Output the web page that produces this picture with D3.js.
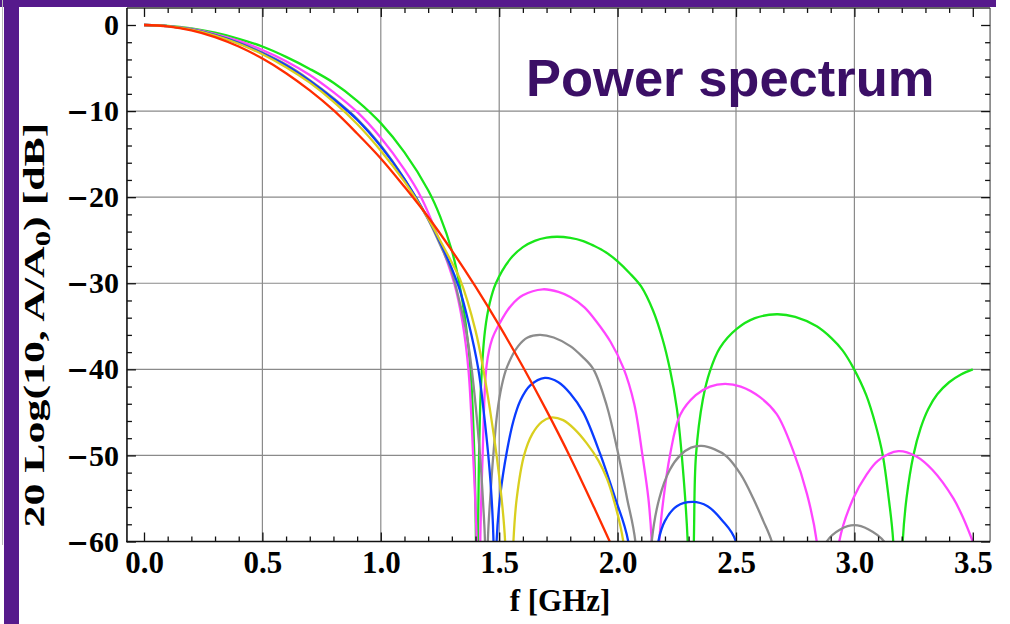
<!DOCTYPE html>
<html>
<head>
<meta charset="utf-8">
<script src="https://cdn.jsdelivr.net/npm/d3@7"></script>
<style>
  body { margin: 0; background: #fff; }
  svg { display: block; }
</style>
</head>
<body>
<script>
var w = 1010;
var h = 624;

// curves, [f in GHz, level in dB]
// (points below -60 only steer the line into the nulls, they are clipped away)
var green = [[0,0],[0.1,-0.1],[0.2,-0.4],[0.3,-0.9],[0.4,-1.6],[0.5,-2.5],[0.6,-3.7],[0.7,-5.1],[0.8,-6.7],[0.9,-8.8],
  [1.0,-11.4],[1.1,-14.8],[1.2,-19.2],[1.25,-22.2],[1.3,-26.2],[1.33,-29.8],[1.36,-35],[1.38,-40.5],[1.395,-50],[1.402,-60],
  [1.406,-80],[1.41,-60],[1.415,-50],[1.423,-42],[1.44,-35.5],[1.46,-32.3],[1.486,-30],[1.546,-27.2],[1.6,-25.8],[1.65,-25.07],
  [1.7,-24.7],[1.745,-24.6],[1.8,-24.73],[1.855,-25.1],[1.9,-25.65],[1.95,-26.4],[2.0,-27.45],[2.05,-28.8],[2.1,-30.4],[2.15,-33.2],
  [2.19,-36.5],[2.221,-40],[2.25,-44.5],[2.271,-50],[2.296,-60],[2.309,-80],[2.322,-60],[2.331,-50],[2.36,-43.5],[2.39,-40.2],
  [2.432,-37.5],[2.503,-35.3],[2.58,-34.05],[2.672,-33.6],[2.75,-33.9],[2.841,-35.0],[2.904,-36.4],[2.95,-37.8],[2.995,-39.8],[3.05,-43],
  [3.09,-46.5],[3.12,-50],[3.145,-55],[3.164,-60],[3.185,-80],[3.204,-60],[3.22,-55],[3.249,-50],[3.28,-46.8],[3.312,-44.6],
  [3.35,-42.9],[3.4,-41.5],[3.45,-40.6],[3.5,-40]];

var magenta = [[0,0],[0.1,-0.12],[0.2,-0.46],[0.3,-1.05],[0.4,-1.85],[0.5,-2.9],[0.6,-4.2],[0.7,-5.8],[0.8,-7.8],[0.9,-10.1],
  [1.0,-13.1],[1.1,-16.8],[1.17,-20],[1.24,-24.5],[1.31,-30],[1.345,-34.5],[1.37,-40],[1.39,-50],[1.405,-60],[1.412,-80],
  [1.42,-60],[1.43,-50],[1.447,-39.5],[1.47,-36.5],[1.503,-34.6],[1.55,-32.6],[1.6,-31.4],[1.684,-30.7],[1.75,-31.0],[1.8,-31.6],
  [1.86,-32.8],[1.912,-34.5],[1.97,-36.8],[2.024,-39.8],[2.07,-44],[2.105,-50],[2.13,-55],[2.144,-60],[2.16,-80],[2.176,-60],
  [2.194,-55],[2.221,-50],[2.264,-45.3],[2.33,-43],[2.39,-42],[2.454,-41.7],[2.52,-42],[2.6,-43.2],[2.672,-45.2],[2.742,-49.5],
  [2.8,-54.5],[2.841,-60],[2.89,-80],[2.936,-60],[2.995,-55],[3.05,-52.3],[3.1,-50.6],[3.186,-49.5],[3.26,-50.1],[3.33,-51.7],
  [3.418,-55],[3.46,-57.3],[3.5,-60]];

var gray = [[0,0],[0.1,-0.13],[0.2,-0.5],[0.3,-1.15],[0.4,-2.05],[0.5,-3.2],[0.6,-4.6],[0.7,-6.4],[0.8,-8.5],[0.9,-10.9],
  [1.0,-14.0],[1.1,-17.9],[1.2,-22.6],[1.25,-25.5],[1.3,-28.7],[1.334,-32.3],[1.36,-35.5],[1.384,-40],[1.419,-50],[1.433,-56],
  [1.44,-60],[1.445,-80],[1.452,-60],[1.462,-55],[1.475,-50],[1.492,-45],[1.51,-42],[1.532,-39.8],[1.58,-37.3],[1.62,-36.3],
  [1.672,-36],[1.73,-36.3],[1.8,-37.3],[1.85,-38.5],[1.898,-40],[1.954,-44.2],[2.0,-49.5],[2.04,-55],[2.075,-60],[2.112,-80],
  [2.144,-60],[2.176,-55],[2.22,-51.7],[2.264,-50],[2.31,-49.1],[2.355,-48.9],[2.41,-49.3],[2.46,-50.1],[2.52,-52.2],[2.573,-55],
  [2.615,-57.6],[2.651,-60],[2.7,-66],[2.77,-80],[2.86,-62],[2.883,-60],[2.94,-58.6],[3.0,-58.1],[3.06,-58.6],[3.125,-60],
  [3.15,-62],[3.2,-80]];

var blue = [[0,0],[0.1,-0.13],[0.2,-0.52],[0.3,-1.18],[0.4,-2.1],[0.5,-3.3],[0.6,-4.7],[0.7,-6.5],[0.8,-8.6],[0.9,-11.0],
  [1.0,-14.1],[1.1,-17.9],[1.2,-22.5],[1.25,-25.2],[1.3,-28.3],[1.334,-30.8],[1.37,-34.5],[1.412,-40],[1.435,-45],[1.454,-50],
  [1.468,-55],[1.476,-60],[1.482,-80],[1.489,-60],[1.505,-54.5],[1.532,-49.6],[1.56,-46],[1.59,-43.6],[1.63,-41.9],[1.693,-41],
  [1.75,-41.5],[1.8,-42.8],[1.855,-45],[1.926,-49.8],[1.99,-55],[2.045,-60],[2.11,-80],[2.172,-60],[2.2,-57.6],[2.25,-55.9],
  [2.317,-55.4],[2.38,-55.9],[2.44,-57.5],[2.5,-60],[2.56,-80]];

var yellow = [[0,0],[0.1,-0.14],[0.2,-0.54],[0.3,-1.22],[0.4,-2.18],[0.5,-3.4],[0.6,-4.9],[0.7,-6.7],[0.8,-8.9],[0.9,-11.5],
  [1.0,-14.6],[1.1,-18.2],[1.2,-22.5],[1.25,-25],[1.3,-27.6],[1.334,-29.5],[1.4,-35.5],[1.433,-40],[1.46,-44.5],[1.489,-50],
  [1.51,-55],[1.525,-60],[1.54,-80],[1.56,-60],[1.574,-55],[1.605,-50],[1.64,-47.5],[1.68,-46.1],[1.717,-45.6],[1.77,-45.9],
  [1.82,-47.0],[1.87,-48.6],[1.919,-50.6],[1.955,-52.7],[1.982,-55],[2.024,-60],[2.08,-80]];

var red = [[0,0],[0.1,-0.16],[0.2,-0.62],[0.3,-1.4],[0.4,-2.5],[0.5,-3.9],[0.6,-5.6],[0.7,-7.6],[0.8,-9.9],[0.9,-12.6],
  [1.0,-15.5],[1.1,-18.8],[1.2,-22.3],[1.3,-26.2],[1.4,-30.4],[1.5,-34.9],[1.6,-39.7],[1.7,-44.8],[1.8,-50.2],[1.9,-56.0],[2.0,-62.0]];

var curveNames = ["green", "magenta", "gray", "blue", "yellow", "red"];
var curveColors = ["#19e619", "#ff45ff", "#8c8c8c", "#0a3cff", "#d9cf1f", "#ff2d00"];

var xMajor = [0, 0.5, 1.0, 1.5, 2.0, 2.5, 3.0, 3.5];
var yMajor = [0, -10, -20, -30, -40, -50, -60];

var titleText = "Power spectrum";
var xLabel = "f [GHz]";

var purple = "#561a8c";

window.onload = function() {

  var svg = d3.select("body")
              .append("svg")
              .attr("width", w)
              .attr("height", h);

  // slide decoration: purple bars top and left
  svg.append("rect").attr("x", 0).attr("y", 0).attr("width", 996).attr("height", 7).attr("fill", purple);
  svg.append("line").attr("x1", 2.5).attr("x2", 2.5).attr("y1", 0).attr("y2", 545)
     .attr("stroke", "#bbb").attr("stroke-width", 1);
  svg.append("rect").attr("x", 4).attr("y", 0).attr("width", 15).attr("height", h).attr("fill", purple);

  var xScale = d3.scaleLinear().domain([0, 3.5]).range([144, 972.8]);
  var yScale = d3.scaleLinear().domain([-60, 0]).range([541.5, 25]);

  var left = xScale(-0.072), right = xScale(3.573);
  var top = yScale(1.98), bottom = yScale(-60);

  // grid (only on the inner major ticks)
  svg.append("g").selectAll("line")
     .data(xMajor.filter(function(d) { return d > 0 && d < 3.5; }))
     .enter().append("line")
     .attr("x1", function(d) { return xScale(d); })
     .attr("x2", function(d) { return xScale(d); })
     .attr("y1", top).attr("y2", bottom)
     .attr("stroke", "#8a8a8a").attr("stroke-width", 1.2);

  svg.append("g").selectAll("line")
     .data(yMajor.filter(function(d) { return d < 0 && d > -60; }))
     .enter().append("line")
     .attr("y1", function(d) { return yScale(d); })
     .attr("y2", function(d) { return yScale(d); })
     .attr("x1", left).attr("x2", right)
     .attr("stroke", "#8a8a8a").attr("stroke-width", 1.2);

  // curves, clipped to the frame
  svg.append("clipPath").attr("id", "clip")
     .append("rect").attr("x", left).attr("y", top)
     .attr("width", right - left).attr("height", bottom - top);

  var line = d3.line()
               .x(function(d) { return xScale(d[0]); })
               .y(function(d) { return yScale(d[1]); })
               .curve(d3.curveCatmullRom.alpha(0.5));

  var curves = [green, magenta, gray, blue, yellow, red];

  svg.append("g").attr("clip-path", "url(#clip)")
     .selectAll("path")
     .data(curves)
     .enter().append("path")
     .attr("class", function(d, i) { return curveNames[i]; })
     .attr("d", line)
     .attr("fill", "none")
     .attr("stroke", function(d, i) { return curveColors[i]; })
     .attr("stroke-width", 2.3)
     .attr("stroke-linejoin", "round");

  // frame
  svg.append("line").attr("x1", right).attr("x2", right).attr("y1", top).attr("y2", bottom)
     .attr("stroke", "#777").attr("stroke-width", 1.5);
  svg.append("line").attr("x1", left).attr("x2", right).attr("y1", top).attr("y2", top)
     .attr("stroke", "#333").attr("stroke-width", 1.5);
  svg.append("line").attr("x1", left).attr("x2", left).attr("y1", top).attr("y2", bottom + 0.8)
     .attr("stroke", "#111").attr("stroke-width", 1.6);
  svg.append("line").attr("x1", left - 0.8).attr("x2", right).attr("y1", bottom).attr("y2", bottom)
     .attr("stroke", "#111").attr("stroke-width", 1.6);

  // ticks on all four sides, pointing inward
  var xMinor = d3.range(0, 36).map(function(i) { return i / 10; })
                 .filter(function(d) { return Math.round(d * 10) % 5 != 0; });
  var yMinor = d3.range(-58, 1, 2).filter(function(d) { return d % 10 != 0; });

  function addAxis(axis, tx, ty, size) {
    var g = svg.append("g")
               .attr("transform", "translate(" + tx + "," + ty + ")")
               .call(axis);
    g.select(".domain").remove();
    g.selectAll(".tick line").attr("stroke", "#111").attr("stroke-width", 1.3);
    g.attr("font-family", "'Liberation Serif', 'DejaVu Serif', serif")
     .attr("font-weight", "bold")
     .attr("font-size", size || 29);
    g.selectAll("text").attr("fill", "#000");
    return g;
  }

  addAxis(d3.axisBottom(xScale).tickValues(xMajor).tickSize(-9).tickPadding(9)
            .tickFormat(d3.format(".1f")), 0, bottom, 31);
  addAxis(d3.axisBottom(xScale).tickValues(xMinor).tickSize(-5).tickFormat(""), 0, bottom);
  addAxis(d3.axisTop(xScale).tickValues(xMajor).tickSize(-9).tickFormat(""), 0, top);
  addAxis(d3.axisTop(xScale).tickValues(xMinor).tickSize(-5).tickFormat(""), 0, top);

  var yAxisG = addAxis(d3.axisLeft(yScale).tickValues(yMajor).tickSize(-9).tickPadding(8), left, 0, 30);
  // the picture has a long, heavy minus sign: rebuild the labels with it
  yAxisG.selectAll(".tick text").each(function(d) {
    var t = d3.select(this).text("");
    if (d < 0) {
      t.append("tspan")
       .attr("font-family", "'DejaVu Sans', sans-serif")
       .attr("font-size", 27)
       .text("\u2212");
    }
    t.append("tspan").text(Math.abs(d));
  });
  addAxis(d3.axisLeft(yScale).tickValues(yMinor).tickSize(-5).tickFormat(""), left, 0);
  addAxis(d3.axisRight(yScale).tickValues(yMajor).tickSize(-9).tickFormat(""), right, 0);
  addAxis(d3.axisRight(yScale).tickValues(yMinor).tickSize(-5).tickFormat(""), right, 0);

  // axis labels
  svg.append("text")
     .attr("x", 560).attr("y", 611)
     .attr("text-anchor", "middle")
     .attr("font-family", "'Liberation Serif', serif")
     .attr("font-weight", "bold")
     .attr("font-size", 31)
     .text(xLabel);

  var yLab = svg.append("text")
     .attr("text-anchor", "middle")
     .attr("font-family", "'Liberation Serif', serif")
     .attr("font-weight", "bold")
     .attr("font-size", 30);
  yLab.append("tspan").text("20 Log(10, A/A");
  yLab.append("tspan").attr("font-size", 21).attr("dy", 6).text("0");
  yLab.append("tspan").attr("dy", -6).text(")  [dB]");

  // the label in the picture is stretched along its baseline
  var natural = yLab.node().getComputedTextLength();
  var stretch = 405 / natural;
  yLab.attr("transform", "translate(44,325) rotate(-90) scale(" + stretch + ",1)");

  // title
  svg.append("text")
     .attr("x", 526).attr("y", 96)
     .attr("font-family", "'Liberation Sans', Arial, sans-serif")
     .attr("font-weight", "bold")
     .attr("font-size", 52.5)
     .attr("fill", "#3b0f66")
     .text(titleText);
};
</script>
</body>
</html>
